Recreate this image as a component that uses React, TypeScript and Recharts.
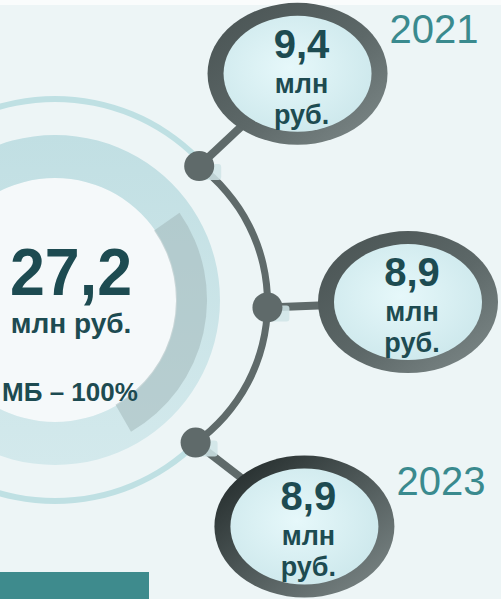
import React from 'react';
import { Pie, PieChart } from 'recharts';

const years = ['2021', '2022', '2023'];
const yearValues = [9.4, 8.9, 8.9];
const yearUnit = ['млн', 'руб.'];
const totalValue = 27.2;
const totalUnit = 'млн руб.';
const totalShare = 'МБ – 100%';

const yearData = years.map((year, i) => ({ name: year, value: yearValues[i] }));
const totalData = [{ name: 'МБ', value: totalValue }];

const FONT = '"Liberation Sans", Arial, sans-serif';
const TEXT_DARK = '#1d4b51';
const TEAL = '#3a8a8e';
const GRAY = '#5f6a6a';
const RAD = Math.PI / 180;

const fmt = (v: number) => String(v).replace('.', ',');

const TotalLabel = (props: any) => {
  const { cx, cy } = props;
  return (
    <g fontFamily={FONT} fontWeight="bold" fill={TEXT_DARK} textAnchor="middle">
      <text x={cx + 16} y={cy - 5} fontSize={66} textLength={122} lengthAdjust="spacingAndGlyphs">
        {fmt(totalValue)}
      </text>
      <text x={cx + 16} y={cy + 33} fontSize={28}>
        {totalUnit}
      </text>
      <text x={cx + 15} y={cy + 101} fontSize={26}>
        {totalShare}
      </text>
    </g>
  );
};

const YearLabel = (props: any) => {
  const { cx, cy, midAngle, innerRadius, outerRadius, payload, index } = props;
  const arcR = (innerRadius + outerRadius) / 2;
  const nx = cx + arcR * Math.cos(-midAngle * RAD);
  const ny = cy + arcR * Math.sin(-midAngle * RAD);
  // lens sits further out, a little flatter toward the horizontal
  const a = midAngle * 0.89 + 1.5;
  const r = 306 + 6 * Math.cos(2 * a * RAD);
  const ex = cx + r * Math.cos(-a * RAD);
  const ey = cy + r * Math.sin(-a * RAD);
  const last = index === years.length - 1;
  return (
    <g>
      <line x1={nx} y1={ny} x2={ex} y2={ey} stroke={GRAY} strokeWidth={8} />
      <rect x={nx + 2} y={ny - 2} width={20} height={16} rx={3} fill="#cfe4e6" opacity={0.85} />
      <circle cx={nx} cy={ny} r={15} fill={GRAY} />
      <ellipse cx={ex} cy={ey} rx={90} ry={71} fill={last ? 'url(#ringDark)' : 'url(#ring)'} />
      <ellipse cx={ex} cy={ey} rx={74} ry={58} fill="url(#lens)" />
      <g fontFamily={FONT} fontWeight="bold" fill={TEXT_DARK} textAnchor="middle">
        <text x={ex + 4} y={ey - 16} fontSize={40}>
          {fmt(payload.value)}
        </text>
        <text x={ex + 4} y={ey + 19} fontSize={27}>
          {yearUnit[0]}
        </text>
        <text x={ex + 4} y={ey + 50} fontSize={27}>
          {yearUnit[1]}
        </text>
      </g>
      <text x={ex + 92} y={ey - 31} fontFamily={FONT} fontSize={40} fill={TEAL}>
        {payload.name}
      </text>
    </g>
  );
};

export default function App() {
  return (
    <div
      style={{
        position: 'absolute',
        left: 0,
        top: 0,
        width: 501,
        height: 599,
        overflow: 'hidden',
        background: '#edf5f6',
      }}
    >
      <div style={{ position: 'absolute', left: 0, top: 0, width: 501, height: 5, background: '#fafcfc' }} />
      <div style={{ position: 'absolute', left: 0, top: 572, width: 149, height: 27, background: '#3e8b8d' }} />
      <PieChart
        width={501}
        height={599}
        margin={{ top: 0, right: 0, bottom: 0, left: 0 }}
        style={{ position: 'absolute', left: 0, top: 0 }}
      >
        <defs>
          <linearGradient id="band" x1="0" y1="0" x2="0" y2="1">
            <stop offset="0%" stopColor="#c1dfe3" />
            <stop offset="100%" stopColor="#d3e9ec" />
          </linearGradient>
          <linearGradient id="ring" x1="0" y1="0" x2="1" y2="1">
            <stop offset="0%" stopColor="#485252" />
            <stop offset="55%" stopColor="#5d6868" />
            <stop offset="100%" stopColor="#808b8b" />
          </linearGradient>
          <linearGradient id="ringDark" x1="0" y1="0" x2="1" y2="1">
            <stop offset="0%" stopColor="#1c2424" />
            <stop offset="50%" stopColor="#4f5959" />
            <stop offset="100%" stopColor="#808b8b" />
          </linearGradient>
          <radialGradient id="lens" cx="45%" cy="45%" r="60%">
            <stop offset="0%" stopColor="#e6f8fa" />
            <stop offset="100%" stopColor="#cde8ec" />
          </radialGradient>
        </defs>
        <Pie
          data={totalData}
          dataKey="value"
          cx={55}
          cy={300}
          innerRadius={198}
          outerRadius={204}
          startAngle={45}
          endAngle={315}
          fill="#bfe0e3"
          stroke="none"
          isAnimationActive={false}
        />
        <Pie
          data={totalData}
          dataKey="value"
          cx={55}
          cy={300}
          innerRadius={0}
          outerRadius={122}
          startAngle={0}
          endAngle={360}
          fill="#f5f9fa"
          stroke="none"
          isAnimationActive={false}
        />
        <Pie
          data={totalData}
          dataKey="value"
          cx={55}
          cy={300}
          innerRadius={122}
          outerRadius={165}
          startAngle={0}
          endAngle={360}
          fill="url(#band)"
          stroke="none"
          isAnimationActive={false}
        />
        <Pie
          data={totalData}
          dataKey="value"
          cx={55}
          cy={300}
          innerRadius={121}
          outerRadius={152}
          startAngle={35}
          endAngle={-60}
          fill="#a3b8ba"
          fillOpacity={0.55}
          stroke="none"
          label={TotalLabel}
          labelLine={false}
          isAnimationActive={false}
        />
        <Pie
          data={totalData}
          dataKey="value"
          cx={96}
          cy={303}
          innerRadius={168}
          outerRadius={175}
          startAngle={54}
          endAngle={-55}
          fill={GRAY}
          stroke="none"
          isAnimationActive={false}
        />
        <Pie
          data={yearData}
          dataKey="value"
          cx={96}
          cy={303}
          innerRadius={168}
          outerRadius={175}
          startAngle={81}
          endAngle={-81}
          fill="transparent"
          stroke="none"
          label={YearLabel}
          labelLine={false}
          isAnimationActive={false}
        />
      </PieChart>
    </div>
  );
}
